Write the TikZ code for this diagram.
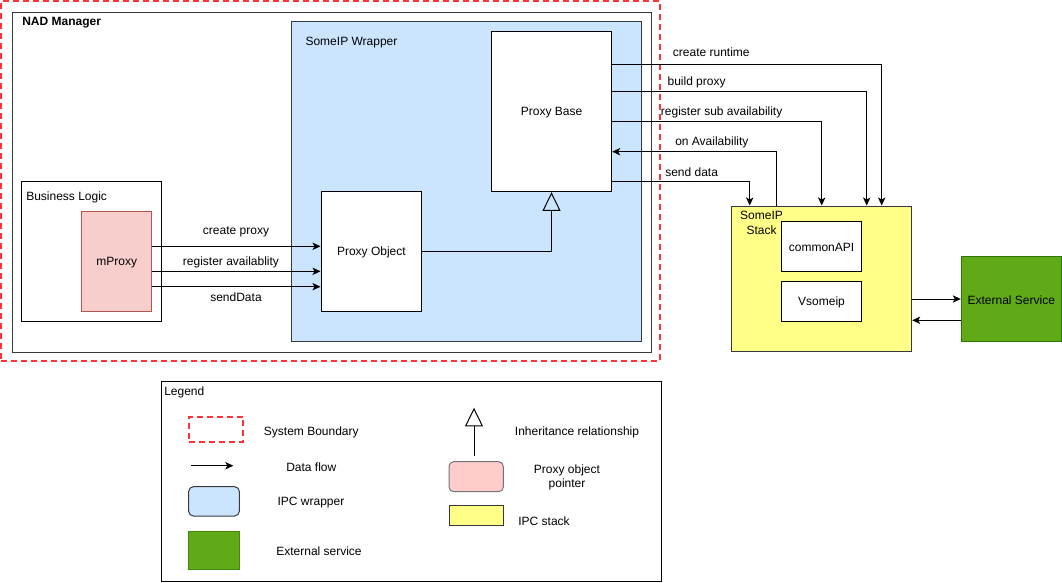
\documentclass[tikz,border=0pt]{standalone}
\usepackage{fontspec}
\setmainfont{Liberation Sans}
\usetikzlibrary{arrows.meta,fit}
\definecolor{boundary}{HTML}{FF3333}
\definecolor{frame}{HTML}{36393D}
\definecolor{wrapfill}{HTML}{CCE5FF}
\definecolor{proxyfill}{HTML}{F8CECC}
\definecolor{proxyline}{HTML}{B85450}
\definecolor{stackfill}{HTML}{FFFF88}
\definecolor{extfill}{HTML}{60A917}
\definecolor{extline}{HTML}{2D7600}
\definecolor{legpink}{HTML}{FFCCCC}
\begin{document}
\begin{tikzpicture}[x=0.75pt,y=-0.75pt,
  font=\fontsize{9pt}{11pt}\selectfont,
  box/.style={draw, line width=0.75pt, inner sep=0pt},
  boundarybox/.style={draw=boundary, line width=1.5pt, dash pattern=on 4.5pt off 3pt},
  flow/.style={line width=0.75pt, -{Stealth[length=6pt,width=5.5pt,inset=1.5pt]}},
  inherit/.style={line width=0.75pt, -{Triangle[open,length=14pt,width=13.5pt]}},
  lbl/.style={inner sep=0pt, yshift=-1pt},
]
\useasboundingbox (0,0) rectangle (1062,582);

% system boundary and application frame
\node[boundarybox, inner sep=0pt, fit={(1,1) (660,361)}] (sys) {};
\node[box, draw=frame, fit={(12,12) (651,352)}] (nad) {};
\node[lbl, anchor=west, font=\fontsize{9pt}{11pt}\selectfont\bfseries] (nadlbl) at (22,21) {NAD Manager};

% SomeIP wrapper
\node[box, draw=frame, fill=wrapfill, fit={(291.7,21.7) (641.3,341.7)}] (wrap) {};
\node[lbl, anchor=west] (wraplbl) at (305.3,41) {SomeIP Wrapper};
\node[box, fill=white, fit={(491.3,31.7) (611.7,191.7)}] (pb) {};
\node[lbl] (pbt) at (pb.center) {Proxy Base};
\node[box, fill=white, fit={(321,191.7) (421.7,311.3)}] (po) {};
\node[lbl] (pot) at (po.center) {Proxy Object};

% business logic
\node[box, fit={(21.3,181.7) (161.7,321.3)}] (bl) {};
\node[lbl, anchor=west] (bllbl) at (26,196) {Business Logic};
\node[box, draw=proxyline, fill=proxyfill, fit={(81.7,211.7) (151.7,311.3)}] (mp) {};
\node[lbl] (mpt) at (mp.center) {mProxy};

% SomeIP stack
\node[box, draw=frame, fill=stackfill, fit={(731.7,206) (911.7,351.3)}] (stack) {};
\node[lbl, align=center, font=\fontsize{9pt}{11.25pt}\selectfont] (stacklbl) at (761.5,222) {SomeIP\\Stack};
\node[box, fill=white, fit={(781.3,221.7) (861.7,271)}] (capi) {};
\node[lbl] (capit) at (capi.center) {commonAPI};
\node[box, fill=white, fit={(781.3,281.3) (861.7,321)}] (vsip) {};
\node[lbl] (vsipt) at (vsip.center) {Vsomeip};

% external service
\node[box, draw=extline, fill=extfill, fit={(961.3,256.7) (1061.2,341)}] (ext) {};
\node[lbl] (extt) at (ext.center) {External Service};

% levels of the connectors
\coordinate (yA) at (0,246.3);
\coordinate (yB) at (0,271.3);
\coordinate (yC) at (0,286.7);
\coordinate (cr) at (881.7,64);
\coordinate (bp) at (866.7,91.3);
\coordinate (rs) at (821.7,121.3);
\coordinate (oa) at (776.7,151.7);
\coordinate (sd) at (749.7,181.7);
\coordinate (eA) at (0,299);
\coordinate (eB) at (0,320.3);

% business logic to proxy object
\draw[flow] (mp.east |- yA) -- (po.west |- yA);
\draw[flow] (mp.east |- yB) -- (po.west |- yB);
\draw[flow] (mp.east |- yC) -- (po.west |- yC);
\node[lbl] (l1) at (236,231) {create proxy};
\node[lbl] (l2) at (231,260.7) {register availablity};
\node[lbl] (l3) at (236,296) {sendData};

% inheritance
\draw[inherit] (po.east) -| (pb.south);

% proxy base to stack
\draw[flow] (pb.east |- cr) -| (stack.north -| cr);
\draw[flow] (pb.east |- bp) -| (stack.north -| bp);
\draw[flow] (pb.east |- rs) -| (stack.north -| rs);
\draw[flow] (stack.north -| oa) |- (pb.east |- oa);
\draw[flow] (pb.east |- sd) -| (stack.north -| sd);
\node[lbl, anchor=west] (l4) at (672.7,51) {create runtime};
\node[lbl, anchor=west] (l5) at (667.3,81) {build proxy};
\node[lbl, anchor=west] (l6) at (660.7,111) {register sub availability};
\node[lbl, anchor=west] (l7) at (675,141) {on Availability};
\node[lbl, anchor=west] (l8) at (665,171) {send data};

% stack to external service
\draw[flow] (stack.east |- eA) -- (ext.west |- eA);
\draw[flow] (ext.west |- eB) -- (stack.east |- eB);

% legend
\node[box, fit={(161.7,381) (661,581)}] (legend) {};
\node[lbl, anchor=west] (leglbl) at (164,391) {Legend};
\node[boundarybox, inner sep=0pt, fit={(188.7,416.7) (243.3,441.7)}] (lgsys) {};
\node[lbl] (lgsyst) at (311.3,431) {System Boundary};
\coordinate (df1) at (191,465.7);
\coordinate (df2) at (233.3,465.7);
\draw[flow] (df1) -- (df2);
\node[lbl] (lgdft) at (311.3,465.7) {Data flow};
\node[box, draw=frame, fill=wrapfill, rounded corners=3.5pt, fit={(188.7,486.7) (239.3,516)}] (lgwrap) {};
\node[lbl] (lgwrapt) at (311,501) {IPC wrapper};
\node[box, draw=extline!60!extfill, fill=extfill, fit={(188.7,531.3) (239.3,569)}] (lgext) {};
\node[lbl] (lgextt) at (319,549.7) {External service};
\coordinate (ih1) at (474,456);
\coordinate (ih2) at (474,407.7);
\draw[inherit] (ih1) -- (ih2);
\node[lbl] (lgiht) at (577,431) {Inheritance relationship};
\node[box, draw=frame!70, fill=legpink, rounded corners=3.5pt, fit={(449,461.7) (503.3,491.7)}] (lgpx) {};
\node[lbl, align=center, font=\fontsize{9pt}{11pt}\selectfont] (lgpxt) at (567,476.2) {Proxy object\\pointer};
\node[box, draw=frame, fill=stackfill, fit={(449,505) (503.3,525.7)}] (lgst) {};
\node[lbl] (lgstt) at (544,520.3) {IPC stack};
\end{tikzpicture}
\end{document}
